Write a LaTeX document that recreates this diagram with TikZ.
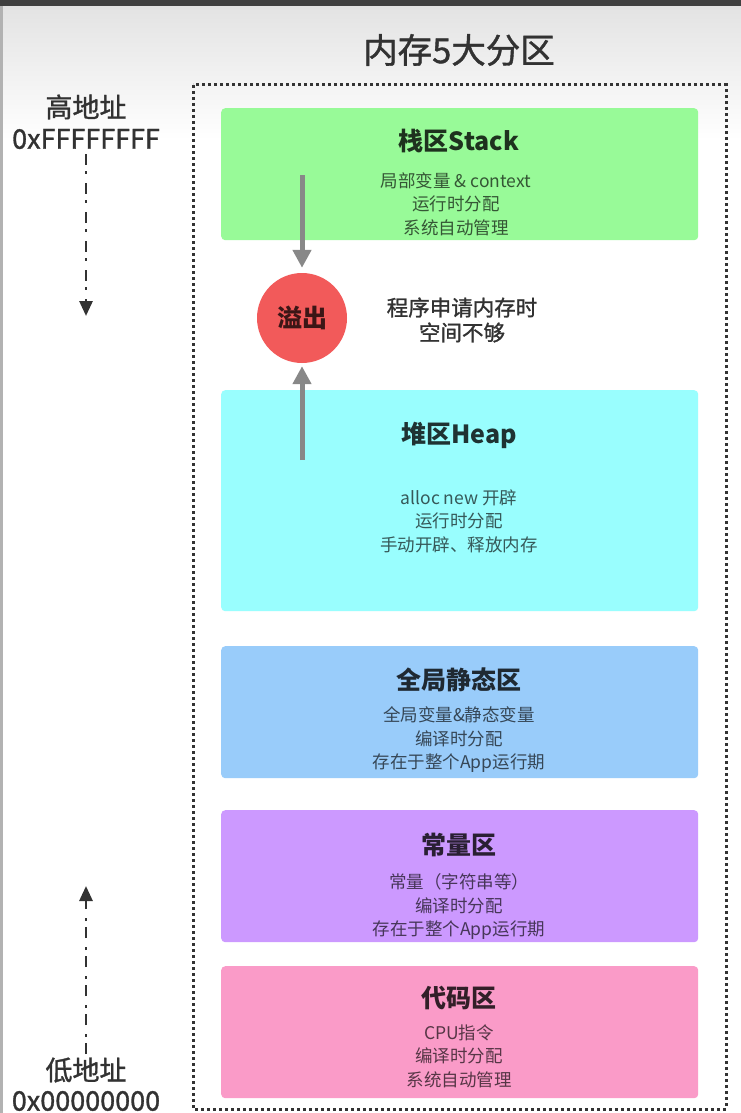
\documentclass[tikz,border=0pt]{standalone}
\usepackage{fontspec}
\setmainfont{Noto Sans CJK SC}
\newfontfamily\medfont[FakeBold=1.2]{Noto Sans CJK SC}
\usetikzlibrary{arrows.meta,shapes.geometric}
\definecolor{stackc}{RGB}{152,250,152}
\definecolor{heapc}{RGB}{153,254,254}
\definecolor{globc}{RGB}{153,204,250}
\definecolor{constc}{RGB}{204,153,255}
\definecolor{codec}{RGB}{250,155,200}
\definecolor{ovfc}{RGB}{242,90,90}
\definecolor{arrowgray}{RGB}{136,136,136}
\definecolor{labelc}{RGB}{50,50,50}
\tikzset{
  area/.style={draw=none, rounded corners=4pt, inner sep=0pt, anchor=north west, minimum width=477pt},
  ttl/.style={font=\fontsize{25}{28}\selectfont\bfseries, inner sep=0pt},
  sub/.style={font=\fontsize{17.5}{23.5}\selectfont, align=center, inner sep=0pt},
  addr/.style={font=\fontsize{27}{30}\selectfont\medfont, text=labelc, inner sep=0pt},
  grayarrow/.style={draw=arrowgray, line width=5pt, -{Triangle[length=18pt,width=18pt]}},
  addrarrow/.style={draw=labelc, line width=2.8pt, dash pattern=on 11pt off 6pt on 3pt off 9pt, -{Triangle[length=15pt,width=13pt]}},
  frame/.style={draw=black!80, line width=3pt, dash pattern=on 2.6pt off 3.4pt}
}
\begin{document}
\begin{tikzpicture}[x=1pt,y=-1pt]
\useasboundingbox (0,0) rectangle (741,1113);
\fill[white] (0,0) rectangle (741,1113);
\shade[top color=gray!22, bottom color=white] (0,6) rectangle (741,140);
\fill[black!75] (0,0) rectangle (741,6);
\fill[gray!60] (0,6) rectangle (3,1113);

% title
\node[font=\fontsize{34.5}{40}\selectfont\medfont, text=labelc, inner sep=0pt] (title) at (459,50) {内存5大分区};

% dotted frame
\draw[frame] (193,85) rectangle (726,1109);

% address labels
\node[addr] (hiName) at (86,107) {高地址};
\node[addr] (hiHex) at (86,139) {0xFFFFFFFF};
\node[addr] (loName) at (86,1070) {低地址};
\node[addr] (loHex) at (86,1101) {0x00000000};
\coordinate (hiEnd) at (86,316);
\coordinate (loStart) at (86,1054);
\coordinate (loEnd) at (86,886);
\draw[addrarrow] (86,154) -- (hiEnd);
\draw[addrarrow] (loStart) -- (loEnd);

% areas
\node[area, fill=stackc, minimum height=132pt] (stack) at (221,108) {};
\node[area, fill=heapc, minimum height=221pt] (heap) at (221,390) {};
\node[area, fill=globc, minimum height=132pt] (glob) at (221,646) {};
\node[area, fill=constc, minimum height=132pt] (const) at (221,810) {};
\node[area, fill=codec, minimum height=132pt] (code) at (221,966) {};

% stack texts
\node[ttl, text=stackc!20!black] (stackT) at (459,141) {栈区Stack};
\node[sub, text=stackc!35!black] (stackL) at (456,204) {局部变量 \& context\\运行时分配\\系统自动管理};

% heap texts
\node[ttl, text=heapc!20!black] (heapT) at (459,435) {堆区Heap};
\node[sub, text=heapc!35!black] (heapL) at (459,521) {alloc new 开辟\\运行时分配\\手动开辟、释放内存};

% global
\node[ttl, text=globc!20!black] (globT) at (459,680) {全局静态区};
\node[sub, text=globc!35!black] (globL) at (459,740) {全局变量\&静态变量\\编译时分配\\存在于整个App运行期};

% const
\node[ttl, text=constc!20!black] (constT) at (459,845) {常量区};
\node[sub, text=constc!35!black] (constL) at (459,907) {常量（字符串等）\\编译时分配\\存在于整个App运行期};

% code
\node[ttl, text=codec!20!black] (codeT) at (459,998) {代码区};
\node[sub, text=codec!35!black] (codeL) at (459,1056) {CPU指令\\编译时分配\\系统自动管理};

% overflow
\node[circle, fill=ovfc, minimum size=90pt, inner sep=0pt, font=\fontsize{25}{28}\selectfont\bfseries, text=ovfc!25!black] (ovf) at (302,318) {溢出};
\node[font=\fontsize{21.5}{25}\selectfont\medfont, align=center, text=labelc, inner sep=0pt] (ovfT) at (462,320) {程序申请内存时\\空间不够};
\coordinate (sA) at (302,175);
\coordinate (hA) at (302,460);
\draw[grayarrow, shorten >=5pt] (sA) -- (ovf.north);
\draw[grayarrow, shorten >=3pt] (hA) -- (ovf.south);
\end{tikzpicture}
\end{document}
